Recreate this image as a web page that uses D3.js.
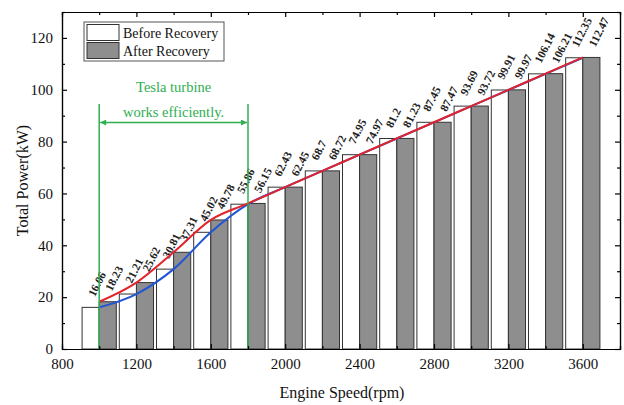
<!DOCTYPE html>
<html>
<head>
<meta charset="utf-8">
<script src="https://cdn.jsdelivr.net/npm/d3@7"></script>
<style>
  body { margin: 0; background: #fff; }
  svg text { font-family: "Liberation Serif", "Times New Roman", serif; }
</style>
</head>
<body>
<script>
var w = 624;
var h = 405;

// engine speed (rpm) and total power (kW)
var speeds = [1000, 1200, 1400, 1600, 1800, 2000, 2200, 2400, 2600, 2800, 3000, 3200, 3400, 3600];
var before = [16.06, 21.21, 30.81, 45.02, 55.86, 62.43, 68.7, 74.95, 81.2, 87.45, 93.69, 99.91, 106.14, 112.35];
var after = [18.23, 25.62, 37.31, 49.78, 56.15, 62.45, 68.72, 74.97, 81.23, 87.47, 93.72, 99.97, 106.21, 112.47];
var beforeLabels = ["16.06", "21.21", "30.81", "45.02", "55.86", "62.43", "68.7", "74.95", "81.2", "87.45", "93.69", "99.91", "106.14", "112.35"];
var afterLabels = ["18.23", "25.62", "37.31", "49.78", "56.15", "62.45", "68.72", "74.97", "81.23", "87.47", "93.72", "99.97", "106.21", "112.47"];

var xTicks = [800, 1200, 1600, 2000, 2400, 2800, 3200, 3600];
var xMinor = [1000, 1400, 1800, 2200, 2600, 3000, 3400, 3800];
var yTicks = [0, 20, 40, 60, 80, 100, 120];
var yMinor = [10, 30, 50, 70, 90, 110, 130];
var zoneStart = 1000, zoneEnd = 1800;

var barW = 92; // rpm
var grey = "#8e8e8e";
var green = "#2fae52";

var x = d3.scaleLinear().domain([800, 3800]).range([62, 620]);
var y = d3.scaleLinear().domain([0, 130]).range([349, 12]);

var svg = d3.select("body").append("svg")
    .attr("width", w)
    .attr("height", h);

// bars
var gBefore = svg.append("g");
gBefore.selectAll("rect")
    .data(before)
    .enter()
    .append("rect")
    .attr("x", function(d, i) { return x(speeds[i] - barW); })
    .attr("y", function(d) { return y(d); })
    .attr("width", function() { return x(800 + barW) - x(800); })
    .attr("height", function(d) { return y(0) - y(d); })
    .attr("fill", "#fff")
    .attr("stroke", "#333")
    .attr("stroke-width", 1);

var gAfter = svg.append("g");
gAfter.selectAll("rect")
    .data(after)
    .enter()
    .append("rect")
    .attr("x", function(d, i) { return x(speeds[i]); })
    .attr("y", function(d) { return y(d); })
    .attr("width", function() { return x(800 + barW) - x(800); })
    .attr("height", function(d) { return y(0) - y(d); })
    .attr("fill", grey)
    .attr("stroke", "#333")
    .attr("stroke-width", 1);

// value labels
function addLabels(vals, labels, off) {
  svg.append("g").selectAll("text")
      .data(vals)
      .enter()
      .append("text")
      .attr("transform", function(d, i) {
        var cx = x(speeds[i] + off) + 4;
        var cy = y(d) - 10;
        return "translate(" + cx + "," + cy + ") rotate(-63)";
      })
      .attr("font-size", 11.5)
      .attr("font-weight", "bold")
      .attr("fill", "#222")
      .text(function(d, i) { return labels[i]; });
}
addLabels(before, beforeLabels, -barW / 2);
addLabels(after, afterLabels, barW / 2);

// lines
var line = d3.line()
    .x(function(d) { return x(d[0]); })
    .y(function(d) { return y(d[1]); })
    .curve(d3.curveMonotoneX);

svg.append("path")
    .datum(speeds.map(function(s, i) { return [s, before[i]]; }))
    .attr("d", line)
    .attr("fill", "none")
    .attr("stroke", "#2155d6")
    .attr("stroke-width", 2);

svg.append("path")
    .datum(speeds.map(function(s, i) { return [s, after[i]]; }))
    .attr("d", line)
    .attr("fill", "none")
    .attr("stroke", "#e3232b")
    .attr("stroke-width", 2);

// green annotation
var defs = svg.append("defs");
defs.append("marker")
    .attr("id", "arr")
    .attr("viewBox", "0 0 10 10")
    .attr("refX", 10).attr("refY", 5)
    .attr("markerWidth", 9).attr("markerHeight", 6)
    .attr("markerUnits", "userSpaceOnUse")
    .attr("orient", "auto-start-reverse")
    .append("path")
    .attr("d", "M0,0L10,5L0,10z")
    .attr("fill", green);

var ga = svg.append("g");
[zoneStart, zoneEnd].forEach(function(s) {
  ga.append("line")
      .attr("x1", x(s)).attr("x2", x(s))
      .attr("y1", 104).attr("y2", y(0))
      .attr("stroke", green)
      .attr("stroke-width", 1.5);
});
ga.append("line")
    .attr("x1", x(zoneStart) + 1).attr("x2", x(zoneEnd) - 1)
    .attr("y1", 122.5).attr("y2", 122.5)
    .attr("stroke", green)
    .attr("stroke-width", 1.5)
    .attr("marker-start", "url(#arr)")
    .attr("marker-end", "url(#arr)");
ga.append("text")
    .attr("x", (x(zoneStart) + x(zoneEnd)) / 2)
    .attr("y", 92)
    .attr("text-anchor", "middle")
    .attr("font-size", 14.5)
    .attr("fill", green)
    .text("Tesla turbine");
ga.append("text")
    .attr("x", (x(zoneStart) + x(zoneEnd)) / 2)
    .attr("y", 116.5)
    .attr("text-anchor", "middle")
    .attr("font-size", 14.5)
    .attr("fill", green)
    .text("works efficiently.");

// axes
function styleAxis(g) {
  g.selectAll("path").attr("stroke", "#000").attr("stroke-width", 1.2);
  g.selectAll("line").attr("stroke", "#000").attr("stroke-width", 1.2);
  g.selectAll("text").attr("font-size", 15).attr("fill", "#111")
      .attr("font-family", "Liberation Serif, Times New Roman, serif");
}

var fmt = d3.format("d");

var xAxis = d3.axisBottom(x).tickValues(xTicks).tickFormat(fmt).tickSizeInner(-5).tickSizeOuter(0).tickPadding(9);
svg.append("g").attr("transform", "translate(0," + y(0) + ")").call(xAxis).call(styleAxis);
svg.append("g").attr("transform", "translate(0," + y(0) + ")")
    .call(d3.axisBottom(x).tickValues(xMinor).tickSize(-3).tickFormat("")).call(styleAxis);

svg.append("g").attr("transform", "translate(0," + y(130) + ")")
    .call(d3.axisTop(x).tickValues(xTicks).tickSizeInner(-5).tickSizeOuter(0).tickFormat("")).call(styleAxis);
svg.append("g").attr("transform", "translate(0," + y(130) + ")")
    .call(d3.axisTop(x).tickValues(xMinor).tickSize(-3).tickFormat("")).call(styleAxis);

var yAxis = d3.axisLeft(y).tickValues(yTicks).tickFormat(fmt).tickSizeInner(-5).tickSizeOuter(0).tickPadding(9);
svg.append("g").attr("transform", "translate(" + x(800) + ",0)").call(yAxis).call(styleAxis);
svg.append("g").attr("transform", "translate(" + x(800) + ",0)")
    .call(d3.axisLeft(y).tickValues(yMinor).tickSize(-3).tickFormat("")).call(styleAxis);

svg.append("g").attr("transform", "translate(" + x(3800) + ",0)")
    .call(d3.axisRight(y).tickValues(yTicks).tickSizeInner(-5).tickSizeOuter(0).tickFormat("")).call(styleAxis);
svg.append("g").attr("transform", "translate(" + x(3800) + ",0)")
    .call(d3.axisRight(y).tickValues(yMinor).tickSize(-3).tickFormat("")).call(styleAxis);

// axis titles
svg.append("text")
    .attr("x", (x(800) + x(3800)) / 2 + 1)
    .attr("y", 398)
    .attr("text-anchor", "middle")
    .attr("font-size", 16)
    .attr("fill", "#111")
    .text("Engine Speed(rpm)");

svg.append("text")
    .attr("transform", "translate(28," + (y(0) + y(130)) / 2 + ") rotate(-90)")
    .attr("text-anchor", "middle")
    .attr("font-size", 16)
    .attr("fill", "#111")
    .text("Total Power(kW)");

// legend
var lg = svg.append("g");
lg.append("rect")
    .attr("x", 84).attr("y", 22)
    .attr("width", 140).attr("height", 39)
    .attr("fill", "#fff")
    .attr("stroke", "#555")
    .attr("stroke-width", 1);
lg.append("rect")
    .attr("x", 87).attr("y", 24.5)
    .attr("width", 32).attr("height", 16)
    .attr("fill", "#fff").attr("stroke", "#333");
lg.append("rect")
    .attr("x", 87).attr("y", 42.5)
    .attr("width", 32).attr("height", 16)
    .attr("fill", grey).attr("stroke", "#333");
lg.append("text")
    .attr("x", 123).attr("y", 37.5)
    .attr("font-size", 14).attr("fill", "#111")
    .text("Before Recovery");
lg.append("text")
    .attr("x", 123).attr("y", 55.5)
    .attr("font-size", 14).attr("fill", "#111")
    .text("After Recovery");
</script>
</body>
</html>
